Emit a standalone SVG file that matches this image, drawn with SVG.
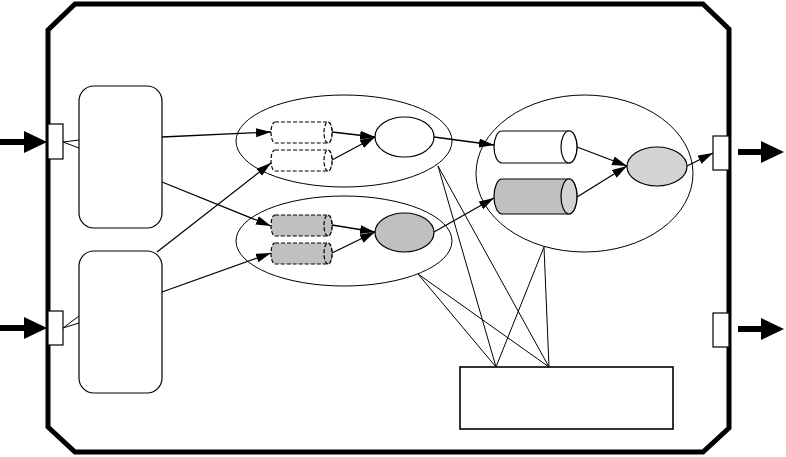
<svg xmlns="http://www.w3.org/2000/svg" width="786" height="457" viewBox="0 0 786 457">
<style>
.frame{fill:#fff;stroke:#000;stroke-width:5;stroke-linejoin:miter}
.port{fill:#fff;stroke:#000;stroke-width:1.2}
.box{fill:#fff;stroke:#000;stroke-width:1.2}
.grp{fill:none;stroke:#000;stroke-width:1}
.node{stroke:#000;stroke-width:1.2}
.dash{stroke:#000;stroke-width:1.2;stroke-dasharray:4,2}
.conn{fill:none;stroke:#000;stroke-width:1.3}
.edge{fill:none;stroke:#000;stroke-width:1.3;marker-end:url(#ah)}
.thin{fill:none;stroke:#000;stroke-width:1}
.big{stroke:#000;stroke-width:6}
</style>
<defs>
<marker id="ah" markerUnits="userSpaceOnUse" markerWidth="16" markerHeight="10" refX="15" refY="4.5" orient="auto">
<path d="M0,0 L15,4.5 L0,9 Z" fill="#000"/>
</marker>
</defs>
<g id="frame">
<path class="frame" d="M48,30 L75,4 L703,4 L729,29 L729,428 L703,452 L75,452 L48,427 Z"/>
</g>
<g id="in1">
<line class="big" x1="0" y1="142" x2="28" y2="142"/>
<polygon points="24,131 47,142 24,153" fill="#000"/>
<rect class="port" x="48" y="124" width="15" height="35"/>
</g>
<g id="in2">
<line class="big" x1="0" y1="328" x2="28" y2="328"/>
<polygon points="24,317 47,328 24,339" fill="#000"/>
<rect class="port" x="48" y="311" width="15" height="34"/>
</g>
<g id="out1">
<rect class="port" x="713" y="136" width="16" height="34"/>
<line class="big" x1="738" y1="152" x2="765" y2="152"/>
<polygon points="761,141 784,152 761,163" fill="#000"/>
</g>
<g id="out2">
<rect class="port" x="713" y="313" width="16" height="34"/>
<line class="big" x1="738" y1="329" x2="765" y2="329"/>
<polygon points="761,318 784,329 761,340" fill="#000"/>
</g>
<g id="src1"><rect class="box" x="79" y="86" width="83" height="142" rx="15"/></g>
<g id="src2"><rect class="box" x="79" y="251" width="83" height="142" rx="15"/></g>
<g id="group-upper"><ellipse class="grp" cx="344" cy="141" rx="108" ry="46"/></g>
<g id="group-lower"><ellipse class="grp" cx="344" cy="241" rx="108" ry="45"/></g>
<g id="group-right"><ellipse class="grp" cx="584.5" cy="173.5" rx="108.5" ry="78.5"/></g>
<g id="cyl-u1">
<path class="dash" fill="#fff" d="M275,122 H328 A4,10.5 0 0 1 328,143 H275 A4,10.5 0 0 1 275,122 Z"/>
<ellipse class="dash" fill="#fff" cx="328" cy="132.5" rx="4" ry="10.5"/>
</g>
<g id="cyl-u2">
<path class="dash" fill="#fff" d="M275,150 H328 A4,10.5 0 0 1 328,171 H275 A4,10.5 0 0 1 275,150 Z"/>
<ellipse class="dash" fill="#fff" cx="328" cy="160.5" rx="4" ry="10.5"/>
</g>
<g id="cyl-l1">
<path class="dash" fill="#c0c0c0" d="M275,215 H328 A4,10.5 0 0 1 328,236 H275 A4,10.5 0 0 1 275,215 Z"/>
<ellipse class="dash" fill="#c0c0c0" cx="328" cy="225.5" rx="4" ry="10.5"/>
</g>
<g id="cyl-l2">
<path class="dash" fill="#c0c0c0" d="M275,243 H328 A4,10.5 0 0 1 328,264 H275 A4,10.5 0 0 1 275,243 Z"/>
<ellipse class="dash" fill="#c0c0c0" cx="328" cy="253.5" rx="4" ry="10.5"/>
</g>
<g id="node-white"><ellipse class="node" fill="#fff" cx="404.5" cy="137" rx="29.5" ry="20"/></g>
<g id="node-gray"><ellipse class="node" fill="#c0c0c0" cx="404.5" cy="232.5" rx="29.5" ry="19.5"/></g>
<g id="cyl-r1">
<path class="node" fill="#fff" d="M502,131 H569 A8,16 0 0 1 569,163 H502 A8,16 0 0 1 502,131 Z"/>
<ellipse class="node" fill="#fff" cx="569" cy="147" rx="8" ry="16"/>
</g>
<g id="cyl-r2">
<path class="node" fill="#c0c0c0" d="M502,179 H569 A8,17.5 0 0 1 569,214 H502 A8,17.5 0 0 1 502,179 Z"/>
<ellipse class="node" fill="#d3d3d3" cx="569" cy="196.5" rx="8" ry="17.5"/>
</g>
<g id="node-light"><ellipse class="node" fill="#d3d3d3" cx="657" cy="166.5" rx="30" ry="19.5"/></g>
<g id="controller"><rect x="460" y="367" width="213" height="62" fill="#fff" stroke="#000" stroke-width="1.6"/></g>
<g id="connectors">
<line class="thin" x1="63" y1="142" x2="79" y2="140"/>
<line class="thin" x1="63" y1="142" x2="79" y2="148"/>
<line class="thin" x1="63" y1="328" x2="79" y2="316"/>
<line class="thin" x1="63" y1="328" x2="79" y2="323"/>
<line class="edge" x1="162" y1="137" x2="271" y2="132"/>
<line class="edge" x1="162" y1="182" x2="271" y2="226"/>
<line class="edge" x1="157" y1="252" x2="271" y2="163"/>
<line class="edge" x1="162" y1="292" x2="271" y2="253"/>
<line class="edge" x1="332" y1="132" x2="375" y2="137"/>
<line class="edge" x1="332" y1="160" x2="375" y2="137"/>
<line class="edge" x1="332" y1="225" x2="375" y2="232"/>
<line class="edge" x1="332" y1="253" x2="375" y2="232"/>
<line class="edge" x1="434" y1="137" x2="494" y2="145"/>
<line class="edge" x1="434" y1="232" x2="494" y2="198"/>
<line class="edge" x1="577" y1="147" x2="627" y2="166"/>
<line class="edge" x1="577" y1="197" x2="627" y2="166"/>
<line class="edge" x1="687" y1="166" x2="713" y2="153"/>
<line class="thin" x1="438" y1="166" x2="496" y2="367"/>
<line class="thin" x1="438" y1="166" x2="549" y2="367"/>
<line class="thin" x1="418" y1="274" x2="496" y2="367"/>
<line class="thin" x1="418" y1="274" x2="549" y2="367"/>
<line class="thin" x1="544" y1="247" x2="496" y2="367"/>
<line class="thin" x1="544" y1="247" x2="549" y2="367"/>
</g>
</svg>
